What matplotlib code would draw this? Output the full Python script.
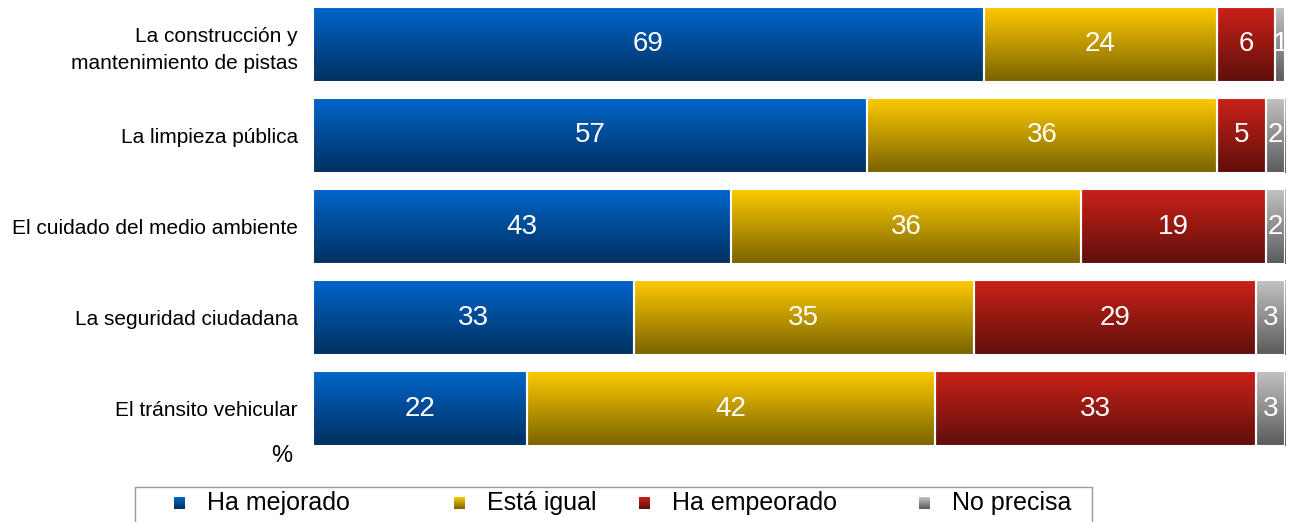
import numpy as np
import matplotlib.pyplot as plt
from matplotlib.colors import LinearSegmentedColormap
from matplotlib.patches import Rectangle

plt.rcParams['font.family'] = ['Liberation Sans', 'DejaVu Sans']

# datos
categorias = ['La construcción y\nmantenimiento de pistas', 'La limpieza pública',
              'El cuidado del medio ambiente', 'La seguridad ciudadana',
              'El tránsito vehicular']
series = ['Ha mejorado', 'Está igual', 'Ha empeorado', 'No precisa']
ha_mejorado = [69, 57, 43, 33, 22]
esta_igual = [24, 36, 36, 35, 42]
ha_empeorado = [6, 5, 19, 29, 33]
no_precisa = [1, 2, 2, 3, 3]
valores = [ha_mejorado, esta_igual, ha_empeorado, no_precisa]

# degradados (arriba claro, abajo oscuro)
colores = [('#0066cc', '#00305f'), ('#ffcc00', '#7a6200'),
           ('#cc2218', '#5e0f0b'), ('#c4c4c4', '#5a5a5a')]
cmaps = [LinearSegmentedColormap.from_list('g%d' % i, c) for i, c in enumerate(colores)]

W, H = 1293, 522
fig = plt.figure(figsize=(W / 100, H / 100), dpi=100)
ax = fig.add_axes([313 / W, (H - 446) / H, 972 / W, 439 / H])

y = np.arange(len(categorias))
alto = 75 / 91
grad = np.linspace(0, 1, 256).reshape(-1, 1)
left = np.zeros(len(categorias))
for vals, cmap in zip(valores, cmaps):
    bars = ax.barh(y, vals, left=left, height=alto, facecolor='none',
                   edgecolor='white', linewidth=1.5, zorder=3)
    for b, v, l in zip(bars, vals, left):
        x0, y0 = b.get_x(), b.get_y()
        im = ax.imshow(grad, cmap=cmap, aspect='auto', zorder=2,
                       extent=[x0, x0 + b.get_width(), y0 + b.get_height(), y0])
        im.set_clip_path(b)
        ax.text(l + v / 2, y0 + b.get_height() / 2, str(v), ha='center',
                va='center', color='white', fontsize=20, zorder=4)
    left = left + np.array(vals)

ax.set_xlim(0, 100)
ax.set_ylim(4.412, -0.412)
ax.set_yticks(y)
ax.set_yticklabels(categorias, fontsize=15, ha='center', linespacing=1.5)
for t in ax.get_yticklabels():
    t.set_horizontalalignment('right')
ax.tick_params(axis='y', length=0, pad=11)
ax.set_xticks([])
for s in ax.spines.values():
    s.set_visible(False)

fig.text(282 / W, 1 - 456 / H, '%', ha='center', va='center', fontsize=17)

# leyenda
fig.patches.append(Rectangle((135 / W, -0.05), 957 / W, 0.05 + (H - 487) / H,
                             transform=fig.transFigure, facecolor='white',
                             edgecolor='#9a9a9a', linewidth=1, zorder=-1))
marca_x = [180, 460, 645, 925]
for nombre, cmap, mx in zip(series, cmaps, marca_x):
    mk = fig.add_axes([(mx - 6) / W, (H - 509) / H, 11 / W, 12 / H])
    mk.imshow(grad, cmap=cmap, aspect='auto')
    mk.axis('off')
    fig.text((mx + 27) / W, 1 - 503 / H, nombre, ha='left', va='center', fontsize=18)

fig.savefig('out.png', dpi=100)
